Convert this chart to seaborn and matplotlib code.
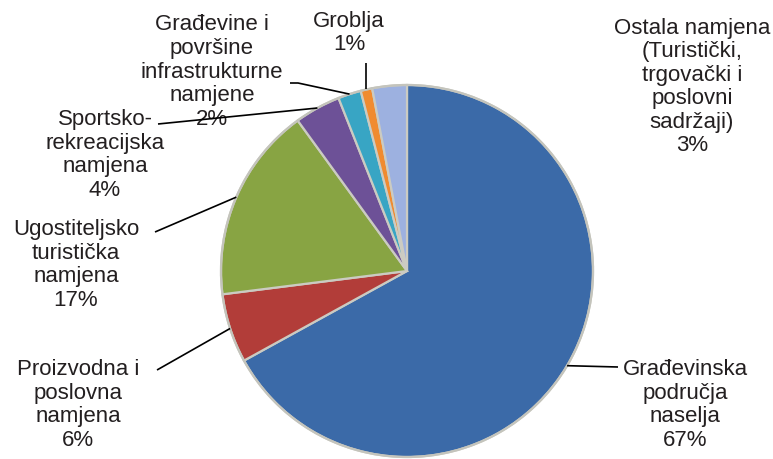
import numpy as np
import matplotlib
matplotlib.use("Agg")
import matplotlib.pyplot as plt
import seaborn as sns

# ---- data ----
categories = [
    "Građevinska\npodručja\nnaselja",
    "Proizvodna i\nposlovna\nnamjena",
    "Ugostiteljsko\nturistička\nnamjena",
    "Sportsko-\nrekreacijska\nnamjena",
    "Građevine i\npovršine\ninfrastrukturne\nnamjene",
    "Groblja",
    "Ostala namjena\n(Turistički,\ntrgovački i\nposlovni\nsadržaji)",
]
values = [67, 6, 17, 4, 2, 1, 3]
colors = ["#3b6aa8", "#b23d39", "#88a443", "#6d5197", "#38a5c4", "#f08b30", "#9db1e0"]

# ---- layout (pixel-based, y up) ----
W, H = 773, 459
center = (407, H - 271)
radius = 186
label_pos = [(685, 54), (78, 54), (76, 194), (105, 304), (212, 387), (349, 426), (692, 372)]
# leader line end points near the label (None = no leader)
leader_end = [[(618, 92)], [(157, 89)], [(155, 227)], [(158, 335)],
              [(298, 376), (290, 376)], [(None, 396)], None]

sns.set_theme(style="white")
plt.rcParams["font.family"] = ["Liberation Sans", "DejaVu Sans"]

fig = plt.figure(figsize=(W / 100, H / 100), dpi=100)
ax = fig.add_axes([0, 0, 1, 1])

wedges, _ = ax.pie(values, colors=colors, startangle=90, counterclock=False,
                   center=center, radius=radius, frame=True,
                   wedgeprops=dict(edgecolor="#cbcbc2", linewidth=1.6))
ax.set_xlim(0, W)
ax.set_ylim(0, H)
ax.set_aspect("equal")
ax.axis("off")

# subtle outer rim
ax.add_patch(plt.Circle(center, radius, fill=False, edgecolor="#c4c4bc", linewidth=1.6, zorder=3))

txt_color = "#231f20"
total = sum(values)
for w, cat, v, pos, le in zip(wedges, categories, values, label_pos, leader_end):
    pct = round(100 * v / total)
    ax.text(pos[0], pos[1], f"{cat}\n{pct}%", ha="center", va="center",
            multialignment="center", fontsize=16, color=txt_color, linespacing=1.16)
    if le is not None:
        mid = np.deg2rad((w.theta1 + w.theta2) / 2)
        ax_ = center[0] + radius * np.cos(mid)
        ay_ = center[1] + radius * np.sin(mid)
        xs = [ax_] + [p[0] if p[0] is not None else ax_ for p in le]
        ys = [ay_] + [p[1] for p in le]
        ax.plot(xs, ys, color="black", linewidth=1.2, zorder=4, solid_capstyle="butt")

fig.savefig("out.png", dpi=100)
